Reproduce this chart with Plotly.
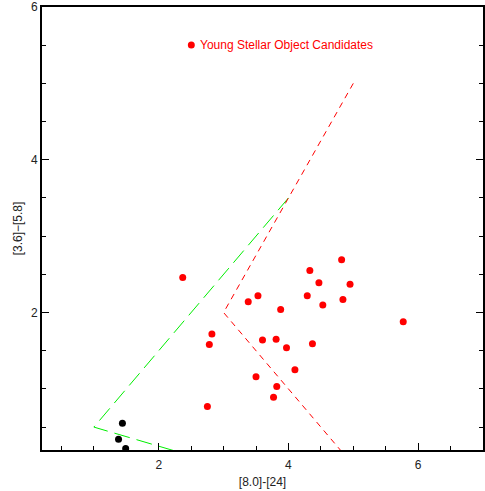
import plotly.graph_objects as go

# Young stellar object candidates ([8.0]-[24], [3.6]-[5.8])
yso_x = [2.37, 4.82, 4.33, 4.47, 4.95, 3.53, 3.38, 4.29, 4.84, 4.53, 3.88,
         2.82, 2.78, 3.60, 3.81, 3.97, 4.37, 4.10, 3.50, 3.82, 3.77, 2.75, 5.77]
yso_y = [2.46, 2.69, 2.55, 2.39, 2.37, 2.22, 2.14, 2.22, 2.17, 2.10, 2.04,
         1.72, 1.58, 1.64, 1.65, 1.54, 1.59, 1.25, 1.16, 1.03, 0.89, 0.77, 1.88]

# Other sources (black)
other_x = [1.44, 1.38, 1.49]
other_y = [0.55, 0.34, 0.22]

# Region boundaries
green_x = [4.0, 1.0, 3.0]
green_y = [3.5, 0.5, 0.0]
red_x = [5.0, 3.0, 5.0]
red_y = [5.0, 2.0, 0.0]

legend_label = "Young Stellar Object Candidates"
x_ticks = [2, 4, 6]
y_ticks = [2, 4, 6]

font_family = "Liberation Sans, Arial, sans-serif"

fig = go.Figure()
fig.add_trace(go.Scatter(x=green_x, y=green_y, mode="lines",
                         line=dict(color="#00ee00", width=1, dash="16px,7px"),
                         showlegend=False, hoverinfo="skip"))
fig.add_trace(go.Scatter(x=red_x, y=red_y, mode="lines",
                         line=dict(color="red", width=1, dash="6px,5px"),
                         showlegend=False, hoverinfo="skip"))
fig.add_trace(go.Scatter(x=yso_x, y=yso_y, mode="markers",
                         marker=dict(color="red", size=7, line=dict(width=0)),
                         showlegend=False))
fig.add_trace(go.Scatter(x=other_x, y=other_y, mode="markers",
                         marker=dict(color="black", size=7, line=dict(width=0)),
                         showlegend=False))

# legend key (paper coordinates)
mx, my = (192 - 42) / 443, (450 - 45) / 443
r = 3.5 / 443
fig.add_shape(type="circle", xref="paper", yref="paper",
              x0=mx - r, x1=mx + r, y0=my - r, y1=my + r,
              fillcolor="red", line=dict(width=0))
fig.add_annotation(text=legend_label, xref="paper", yref="paper",
                   x=(199 - 42) / 443, y=my, xanchor="left", yanchor="middle",
                   showarrow=False, font=dict(color="red", size=12, family=font_family))

axis_common = dict(
    showgrid=False, zeroline=False, showline=True, linecolor="black", linewidth=2,
    ticks="inside", ticklen=7, tickwidth=1, tickcolor="black",
    tickfont=dict(size=12, color="#222", family=font_family),
    minor=dict(ticks="inside", ticklen=4, tickwidth=1, tickcolor="black", dtick=0.5, tick0=0),
)

fig.update_xaxes(range=[0.2, 7.0], tickvals=x_ticks, mirror=True, ticklabelstandoff=3,
                 title=dict(text="[8.0]-[24]", font=dict(size=12, color="#222", family=font_family), standoff=6),
                 **axis_common)
fig.update_yaxes(range=[0.2, 6.0], tickvals=y_ticks, mirror="ticks",
                 title=dict(text="[3.6]\u2212[5.8]", font=dict(size=12, color="#222", family=font_family), standoff=6),
                 **axis_common)

fig.update_layout(width=485, height=491, margin=dict(l=42, r=0, t=7, b=41),
                  plot_bgcolor="white", paper_bgcolor="white",
                  font=dict(family=font_family))

fig.write_html("out.html")
